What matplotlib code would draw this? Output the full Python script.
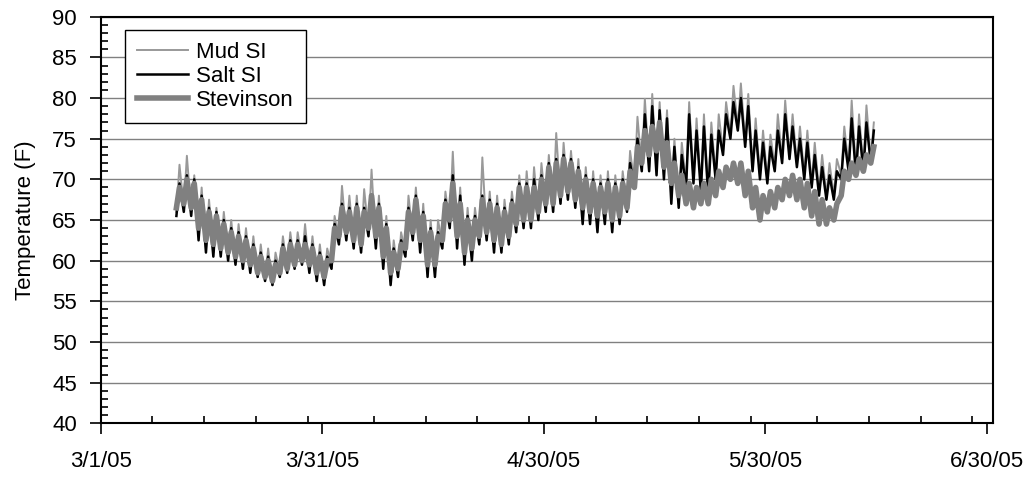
import numpy as np
import matplotlib
matplotlib.use("Agg")
import matplotlib.pyplot as plt
import matplotlib.dates as mdates
from matplotlib.ticker import FixedLocator, FixedFormatter, MultipleLocator

plt.rcParams['font.family'] = ['Liberation Sans', 'DejaVu Sans']
plt.rcParams['font.size'] = 16

# daily lows / highs, one entry per day from 3/11/05 to 6/14/05
first_day = np.datetime64('2005-03-11')

stev_lo = [66.5, 67, 66.5, 64, 62.5, 62, 61.5, 61, 60.5, 60,
           59.5, 58.5, 58, 57.5, 58.5, 59, 59.5, 60, 59.5, 58.5,
           58, 60, 63, 63.5, 62.5, 62, 64, 63, 60.5, 58.5,
           59, 61.5, 63.5, 62.5, 59.5, 59.5, 62.5, 65, 63, 61,
           61.5, 63, 63.5, 62.5, 62, 63, 64.5, 65, 65, 66,
           67, 67, 68, 68.5, 67.5, 66.5, 66, 65.5, 66, 65,
           65.5, 66.5, 69, 72, 73, 73.5, 71.5, 69.5, 68, 67,
           66.5, 67, 67, 68, 69, 70, 69.5, 68, 66.5, 65,
           66, 66.5, 67.5, 68, 67.5, 66.5, 65.5, 64.5, 64.5, 65,
           68, 70, 70.5, 71, 72]
stev_hi = [69, 70, 69.5, 67.5, 66, 65.5, 64.5, 63.5, 63, 62.5,
           61.5, 60.5, 60, 59.5, 61.5, 62, 62, 62, 61.5, 60.5,
           60, 64, 66.5, 66, 66.5, 66, 68, 66.5, 64, 61,
           62, 66, 67.5, 65.5, 63.5, 63, 67, 69.5, 67, 65,
           65, 67.5, 67, 66.5, 66, 67, 69, 69, 69, 70,
           71.5, 72, 72.5, 72, 71, 70, 69.5, 69, 69.5, 69,
           69.5, 71, 74, 76, 76.5, 77, 74.5, 72, 70.5, 69.5,
           69, 69.5, 70, 71, 71.5, 72, 72, 71, 69, 68,
           68.5, 69, 70, 70.5, 70, 69.5, 68.5, 67.5, 66.5, 67,
           71, 72, 72.5, 73, 74]

salt_lo = [65.5, 66, 65.5, 62.5, 61, 60.5, 60.5, 60, 59.5, 59,
           58.5, 58, 57.5, 57, 58, 58.5, 59, 59.5, 58.5, 57.5,
           57, 59, 62, 62.5, 61.5, 61, 63, 61.5, 59, 57,
           58, 60.5, 62.5, 61, 58, 58, 61.5, 64, 61.5, 59.5,
           60, 62, 62.5, 61, 61, 62, 63.5, 64, 64, 65,
           66, 66, 67, 67.5, 66.5, 64.5, 64.5, 63.5, 64.5, 63.5,
           64.5, 66, 69, 71, 71, 70.5, 70, 67, 66.5, 69,
           69.5, 68.5, 68, 70, 73, 75, 76, 74, 71, 70,
           69.5, 71, 72, 72.5, 71.5, 70, 69, 68, 67.5, 67.5,
           70, 71, 70.5, 71, 72]
salt_hi = [69.5, 70.5, 70, 68, 66.5, 66, 65, 64, 63.5, 63,
           62, 61, 60.5, 60, 62, 62.5, 62.5, 63, 62, 61,
           60.5, 64.5, 67, 66.5, 67, 66.5, 68, 67, 64.5, 61.5,
           62.5, 66.5, 68, 66, 64, 63.5, 67.5, 70.5, 68, 65.5,
           65.5, 68, 67.5, 67, 66.5, 67.5, 69.5, 69.5, 70, 70.5,
           72, 72.5, 73, 72.5, 71.5, 70.5, 70, 69.5, 70, 69.5,
           70, 72, 75, 78, 79, 78.5, 77.5, 74, 73, 78,
           76, 76.5, 75.5, 76, 78, 79.5, 80, 79, 76, 74.5,
           74, 76, 78, 76.5, 75, 74.5, 73, 71.5, 70.5, 71,
           75, 77.5, 76.5, 77, 76]

mud_lo = [66, 66.5, 66, 63, 61.5, 61, 61, 60.5, 60, 59.5,
          59, 58, 57.5, 57, 58.5, 59, 59.5, 60, 59, 58,
          57.5, 59.5, 62.5, 63, 62, 61.5, 63.5, 62, 59.5, 57.5,
          58.5, 61, 63, 61.5, 58.5, 58.5, 62, 64.5, 62, 60,
          60.5, 62.5, 63, 61.5, 61.5, 62.5, 64, 64.5, 64.5, 65.5,
          66.5, 66.5, 67.5, 68, 67, 65, 65, 64, 65, 64,
          65, 66.5, 69.5, 71.5, 71.5, 71, 70.5, 67.5, 67, 69.5,
          70, 69, 68.5, 70.5, 73.5, 75.5, 76.5, 74.5, 71.5, 70.5,
          70, 71.5, 72.5, 73, 72, 70.5, 69.5, 68.5, 68, 68,
          70.5, 71.5, 71, 71.5, 72.5]
mud_hi = [71.8, 72.9, 70.5, 69, 67.5, 66.5, 66, 65, 64.5, 64,
          63, 62, 61.5, 61, 63, 63.5, 63.5, 64.5, 63, 62,
          61.5, 65.5, 69.2, 68, 68, 68.8, 71.2, 68, 65.5, 62.5,
          63.5, 68, 69, 67, 65, 65, 68.5, 73.4, 69, 66.5,
          66.5, 72.7, 68.5, 68, 67.5, 68.5, 70.5, 71, 71.5, 72,
          73, 75.7, 74.5, 73.5, 72.5, 71.5, 71, 70.5, 71, 70.5,
          71, 73.5, 77.7, 79.9, 80.5, 79.5, 78.5, 75, 74.5, 79.5,
          77.5, 78, 77, 78, 79.5, 81.5, 81.8, 80.5, 77.5, 76,
          75.5, 78, 79.7, 78, 76.5, 76, 74.5, 73, 72, 72.5,
          76.5, 79.7, 78, 79.1, 77]

tick_labels = ['3/1/05', '3/31/05', '4/30/05', '5/30/05', '6/30/05']


def daily_series(lo, hi):
    # low around 6 am, high around 4 pm
    days = first_day + np.arange(len(lo)).astype('timedelta64[D]')
    t_lo = days + np.timedelta64(6, 'h')
    t_hi = days + np.timedelta64(16, 'h')
    t = np.empty(2 * len(lo), dtype='datetime64[m]')
    v = np.empty(2 * len(lo))
    t[0::2], t[1::2] = t_lo, t_hi
    v[0::2], v[1::2] = lo, hi
    return t, v


fig = plt.figure(figsize=(10.36, 4.78), dpi=100)
ax = fig.add_axes([0.0972, 0.1144, 0.8613, 0.8506])

t, v = daily_series(mud_lo, mud_hi)
ax.plot(t, v, color='#999999', lw=1.4, label='Mud SI', zorder=3)
t, v = daily_series(salt_lo, salt_hi)
ax.plot(t, v, color='black', lw=1.8, label='Salt SI', zorder=4)
t, v = daily_series(stev_lo, stev_hi)
ax.plot(t, v, color='#808080', lw=4, label='Stevinson', zorder=5)

start = mdates.date2num(np.datetime64('2005-03-01'))
major = [start + 30 * k for k in range(5)]
minor = [m + d for m in major[:4] for d in (7, 14, 21, 28)]
ax.set_xlim(start, start + 120.8)
ax.xaxis.set_major_locator(FixedLocator(major))
ax.xaxis.set_major_formatter(FixedFormatter(tick_labels))
ax.xaxis.set_minor_locator(FixedLocator(minor))

ax.set_ylim(40, 90)
ax.yaxis.set_major_locator(MultipleLocator(5))
ax.yaxis.set_minor_locator(MultipleLocator(1))
ax.grid(axis='y', which='major', color='#808080', lw=1)
ax.set_axisbelow(True)

ax.tick_params(which='major', direction='out', length=8, width=1.2, pad=9)
ax.tick_params(axis='x', which='major', pad=12)
ax.tick_params(which='minor', direction='in', length=5, width=1.2)
for s in ax.spines.values():
    s.set_linewidth(1.5)

ax.set_ylabel('Temperature (F)')
ax.yaxis.set_label_coords(-0.073, 0.5)

leg = ax.legend(loc='upper left', bbox_to_anchor=(125 / 1036, 1 - 30 / 478),
                bbox_transform=fig.transFigure, borderaxespad=0,
                fancybox=False, framealpha=1, edgecolor='black',
                handlelength=2.3, handletextpad=0.35, labelspacing=0.12,
                borderpad=0.55)
leg.get_frame().set_linewidth(1)

fig.savefig('out.png', dpi=100)
